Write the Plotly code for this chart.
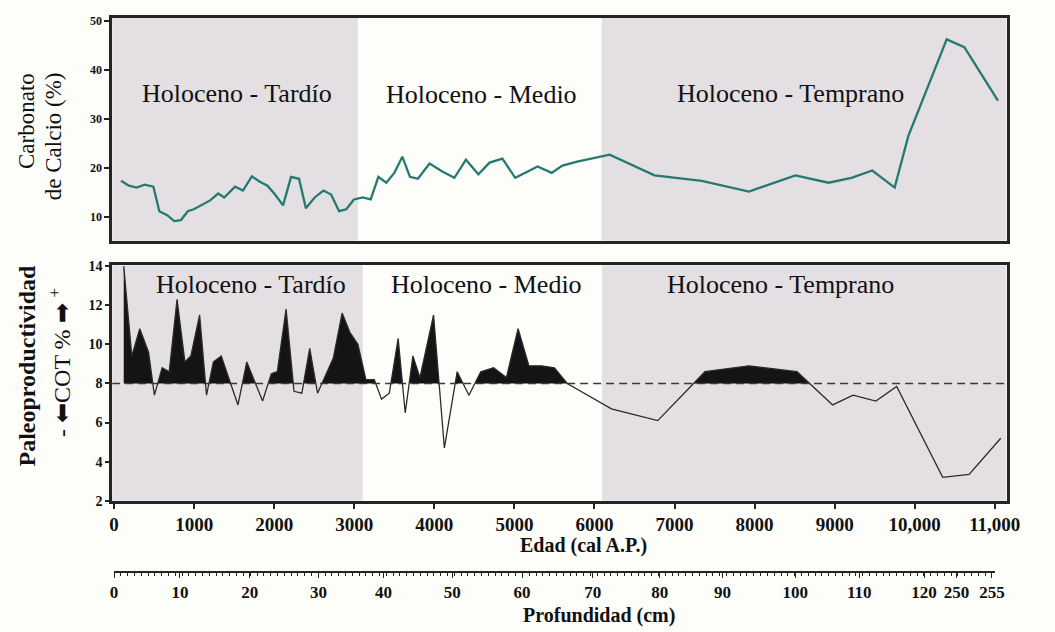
import plotly.graph_objects as go

W, H = 1055, 632

# ---- Carbonato de calcio (%) vs edad (cal A.P.) ----
edad_caco3 = [86, 184, 282, 380, 490, 565, 663, 750, 835, 920,
              995, 1105, 1200, 1300, 1375, 1510, 1610, 1720, 1820, 1915,
              2010, 2110, 2210, 2310, 2395, 2505, 2615, 2710, 2810, 2900,
              2995, 3105, 3205, 3300, 3400, 3500, 3600, 3695, 3795, 3940,
              4100, 4250, 4395, 4550, 4690, 4850, 5010, 5155, 5290, 5465,
              5600, 5785, 6190, 6750, 7340, 7930, 8510, 8925, 9210, 9470,
              9750, 9920, 10400, 10620, 11040]
caco3 = [17.4, 16.4, 16.0, 16.6, 16.2, 11.2, 10.4, 9.2, 9.4, 11.2,
         11.6, 12.6, 13.4, 14.8, 14.0, 16.2, 15.4, 18.3, 17.2, 16.4,
         14.6, 12.4, 18.2, 17.8, 11.8, 14.0, 15.4, 14.6, 11.2, 11.6,
         13.6, 14.0, 13.6, 18.2, 17.0, 19.0, 22.3, 18.2, 17.8, 20.9,
         19.3, 18.0, 21.7, 18.7, 21.1, 21.9, 18.0, 19.2, 20.3, 19.0,
         20.5, 21.3, 22.7, 18.5, 17.4, 15.2, 18.5, 17.0, 18.0, 19.5,
         16.0, 26.5, 46.2, 44.6, 33.7]

# ---- Carbono orgánico total (COT %) vs edad ----
edad_cot = [120, 221, 320, 430, 503, 600, 688, 786, 884, 958,
            1068, 1154, 1240, 1338, 1547, 1657, 1854, 1964, 2038, 2148,
            2247, 2345, 2443, 2541, 2738, 2848, 2946, 3045, 3145, 3250,
            3340, 3437, 3548, 3636, 3732, 3820, 3990, 4125, 4285, 4432,
            4580, 4740, 4900, 5046, 5181, 5340, 5500, 5660, 6212, 6790,
            7380, 7930, 8530, 8975, 9230, 9515, 9775, 10350, 10680, 11075]
cot = [14.0, 9.4, 10.8, 9.6, 7.4, 8.8, 8.6, 12.3, 9.1, 9.4,
       11.5, 7.4, 9.1, 9.4, 6.9, 9.1, 7.1, 8.5, 8.6, 11.8,
       7.6, 7.5, 9.8, 7.5, 9.3, 11.6, 10.6, 10.0, 8.2, 8.2,
       7.2, 7.5, 10.3, 6.5, 9.4, 8.3, 11.5, 4.7, 8.6, 7.4,
       8.6, 8.8, 8.3, 10.8, 8.9, 8.9, 8.8, 8.0, 6.7, 6.1,
       8.6, 8.9, 8.6, 6.9, 7.4, 7.1, 7.85, 3.2, 3.35, 5.2]
cot_umbral = 8

# ---- Periodos del Holoceno ----
periodos = ["Holoceno - Tardío", "Holoceno - Medio", "Holoceno - Temprano"]
limites_caco3 = [3045, 6090]
limites_cot = [3105, 6095]

# ---- Ejes ----
edad_ticks = [0, 1000, 2000, 3000, 4000, 5000, 6000, 7000, 8000, 9000, 10000, 11000]
edad_ticktext = ["0", "1000", "2000", "3000", "4000", "5000", "6000",
                 "7000", "8000", "9000", "10,000", "11,000"]
caco3_ticks = [10, 20, 30, 40, 50]
cot_ticks = [2, 4, 6, 8, 10, 12, 14]
prof_labels = ["0", "10", "20", "30", "40", "50", "60", "70", "80",
               "90", "100", "110", "120", "250", "255"]
prof_edad = [0, 823, 1694, 2554, 3364, 4223, 5095, 5979, 6814,
             7600, 8508, 9306, 10117, 10522, 10964]

FONT = "Liberation Serif"
INK = "#111111"
FRAME = "#242424"
SHADE = "#e3dfe3"
PAPER = "#fdfdfa"
TEAL = "#237a70"

X_RANGE = [-25, 11148]


def px(x):
    return x / W


def py(y):
    return 1 - y / H


def fill_above(xs, ys, level):
    """Polygon of the area where the series lies above `level`."""
    fx, fy = [], []
    for i in range(len(xs)):
        if i > 0:
            y0, y1 = ys[i - 1], ys[i]
            if (y0 - level) * (y1 - level) < 0:
                t = (level - y0) / (y1 - y0)
                fx.append(xs[i - 1] + t * (xs[i] - xs[i - 1]))
                fy.append(level)
        fx.append(xs[i])
        fy.append(max(ys[i], level))
    return fx + [fx[-1], fx[0]], fy + [level, level]


fig = go.Figure()

# carbonate curve
fig.add_trace(go.Scatter(x=edad_caco3, y=caco3, mode="lines",
                         line=dict(color=TEAL, width=2.3),
                         xaxis="x", yaxis="y", hoverinfo="skip"))

# productivity: black area above the threshold, then the curve itself
fxs, fys = fill_above(edad_cot, cot, cot_umbral)
fig.add_trace(go.Scatter(x=fxs, y=fys, mode="lines", fill="toself",
                         fillcolor="#141414", line=dict(width=0),
                         xaxis="x2", yaxis="y2", hoverinfo="skip"))
fig.add_trace(go.Scatter(x=edad_cot, y=cot, mode="lines",
                         line=dict(color="#2a2a2a", width=1.3),
                         xaxis="x2", yaxis="y2", hoverinfo="skip"))

# carrier for the depth scale
fig.add_trace(go.Scatter(x=[], y=[], xaxis="x3", yaxis="y3", hoverinfo="skip"))

shapes = []
# shaded periods (Tardío and Temprano) in both panels
for xa, ya, lims in (("x", "y", limites_caco3), ("x2", "y2", limites_cot)):
    for x0, x1 in ((X_RANGE[0], lims[0]), (lims[1], X_RANGE[1])):
        shapes.append(dict(type="rect", xref=xa, yref=ya + " domain",
                           x0=x0, x1=x1, y0=0, y1=1, fillcolor=SHADE,
                           line=dict(width=0), layer="below"))
# COT threshold
shapes.append(dict(type="line", xref="x2", yref="y2", x0=X_RANGE[0], x1=X_RANGE[1],
                   y0=cot_umbral, y1=cot_umbral,
                   line=dict(color="#3a3a3a", width=1.5, dash="8px,5px"),
                   layer="above"))

xdom = [px(110), px(1020)]
frame = dict(showline=True, mirror=True, linecolor=FRAME, linewidth=2.5,
             showgrid=False, zeroline=False)

fig.update_layout(
    width=W, height=H,
    margin=dict(l=0, r=0, t=0, b=0),
    paper_bgcolor=PAPER, plot_bgcolor=PAPER,
    showlegend=False,
    font=dict(family=FONT, color=INK),
    xaxis=dict(domain=xdom, anchor="y", range=X_RANGE, showticklabels=False,
               ticks="", **frame),
    yaxis=dict(domain=[py(240), py(12)], anchor="x", range=[5.2, 50.6],
               tickvals=caco3_ticks, ticks="outside", ticklen=5, tickwidth=1.5,
               tickcolor=FRAME, tickfont=dict(size=12, family=FONT, weight="bold"),
               **frame),
    xaxis2=dict(domain=xdom, anchor="y2", range=X_RANGE,
                tickvals=edad_ticks, ticktext=edad_ticktext,
                ticks="outside", ticklen=5, tickwidth=1.5, tickcolor=FRAME,
                tickfont=dict(size=19, family=FONT, weight="bold"), **frame),
    yaxis2=dict(domain=[py(506), py(265)], anchor="x2", range=[2, 14.05],
                tickvals=cot_ticks, ticks="outside", ticklen=4, tickwidth=1.5,
                tickcolor=FRAME, tickfont=dict(size=14, family=FONT, weight="bold"),
                **frame),
    xaxis3=dict(domain=[px(112), px(1008)], anchor="y3", range=[0, 11000],
                tickvals=prof_edad, ticktext=prof_labels,
                ticks="outside", ticklen=5, tickwidth=1.2, tickcolor=FRAME,
                minor=dict(ticks="outside", ticklen=3, tickwidth=1, dtick=85,
                           tick0=0, tickcolor=FRAME, showgrid=False),
                tickfont=dict(size=17, family=FONT, weight="bold"),
                showline=True, linecolor=FRAME, linewidth=1.5,
                showgrid=False, zeroline=False),
    yaxis3=dict(domain=[py(578), py(570)], anchor="x3", visible=False, range=[0, 1]),
    shapes=shapes,
)

ann = []
# period names
for name, (x, y) in zip(periodos, [(237, 89), (486, 90), (800, 89)]):
    ann.append(dict(text=name, x=px(x), y=py(y), font=dict(size=26)))
for name, (x, y) in zip(periodos, [(251, 285), (491, 285), (790, 285)]):
    ann.append(dict(text=name, x=px(x), y=py(y), font=dict(size=26)))

# axis titles
ann += [
    dict(text="Carbonato", x=px(23), y=py(118), textangle=-90, font=dict(size=23)),
    dict(text="de Calcio (%)", x=px(50), y=py(133), textangle=-90, font=dict(size=23)),
    dict(text="<b>Paleoproductividad</b>", x=px(23), y=py(368), textangle=-90,
         font=dict(size=24)),
    dict(text="- ⬅COT % ➡ <sup>+</sup>", x=px(57), y=py(365), textangle=-90,
         font=dict(size=24)),
    dict(text="<b>Edad (cal A.P.)</b>", x=px(590), y=py(552), font=dict(size=20)),
    dict(text="<b>Profundidad (cm)</b>", x=px(605), y=py(623), font=dict(size=20)),
]
for a in ann:
    a.update(xref="paper", yref="paper", showarrow=False,
             xanchor="center", yanchor="middle")
    a["font"].update(family=FONT, color=INK)
fig.update_layout(annotations=ann)

fig.write_html("out.html")
